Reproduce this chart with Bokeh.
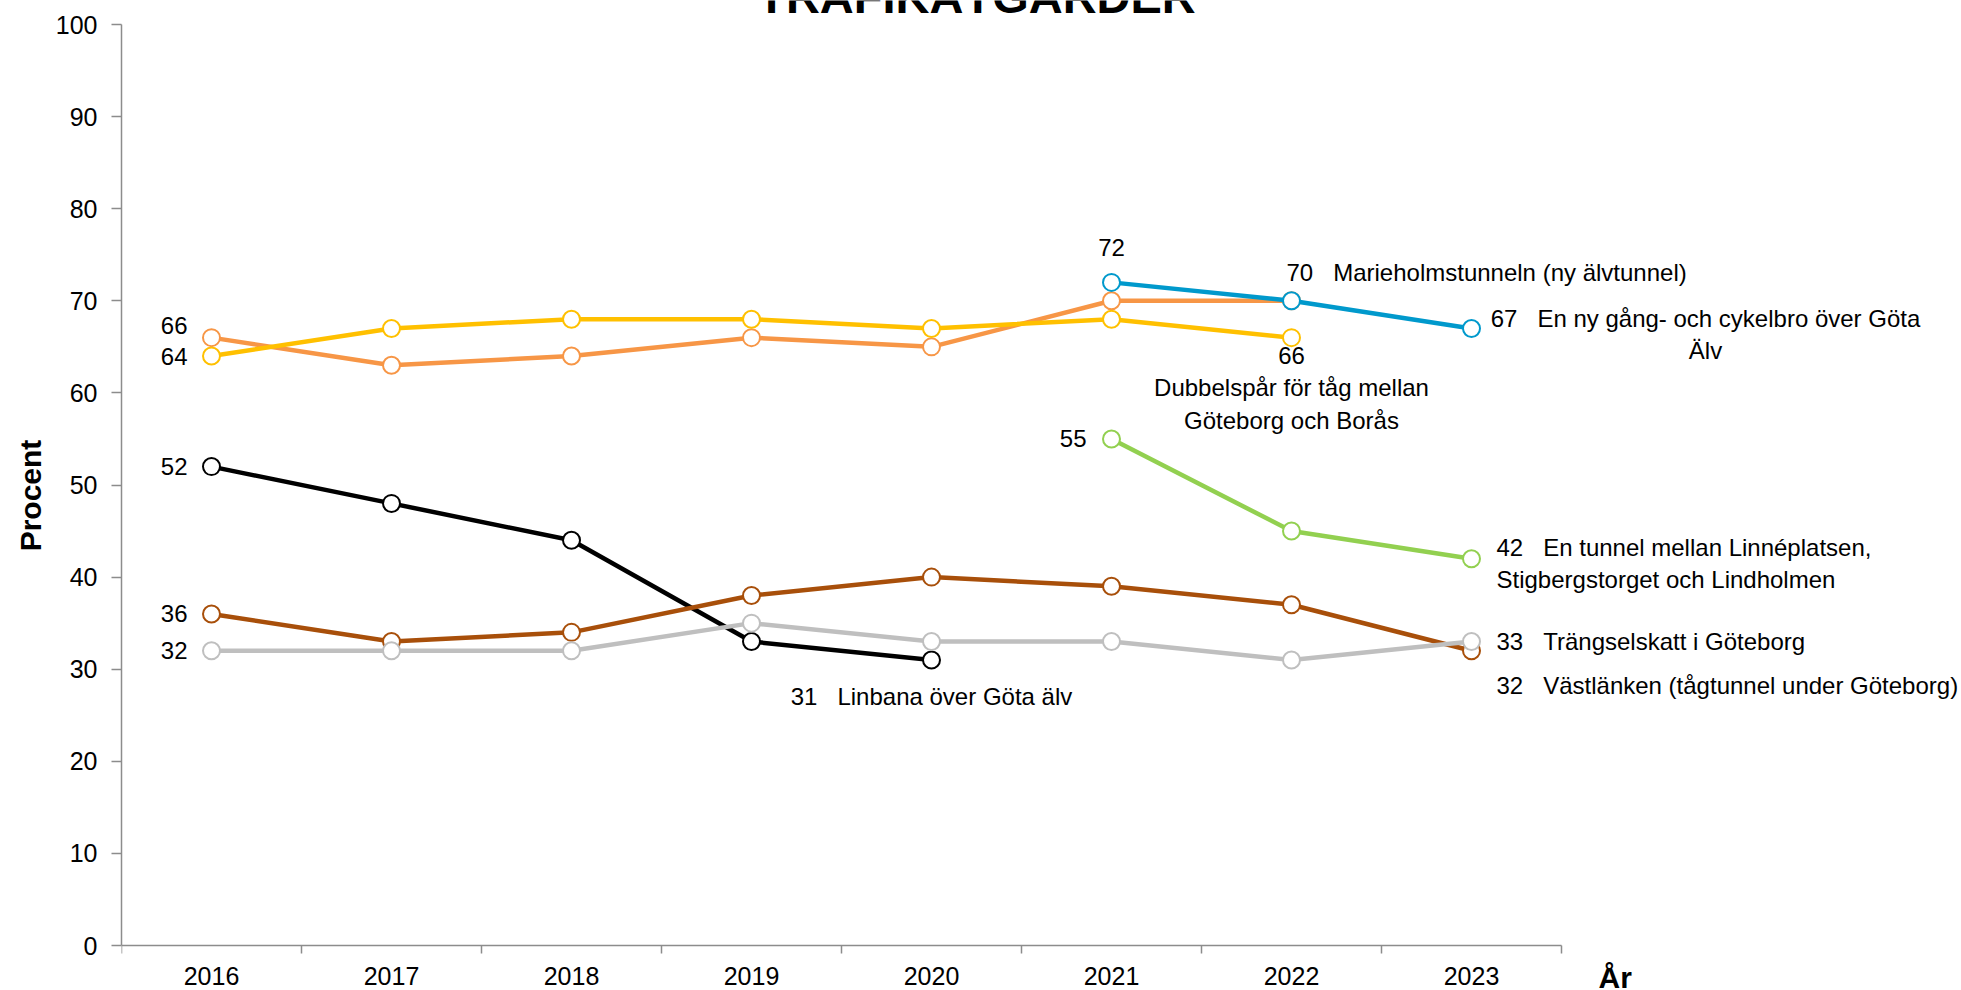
from bokeh.plotting import figure
from bokeh.models import Range1d, FixedTicker, Label
from bokeh.embed import file_html
from bokeh.resources import INLINE

# ---------------- data ----------------
years = [2016, 2017, 2018, 2019, 2020, 2021, 2022, 2023]
y_ticks = [0, 10, 20, 30, 40, 50, 60, 70, 80, 90, 100]

title_text = "TRAFIKÅTGÄRDER"
y_title = "Procent"
x_title = "År"

marieholm = [66, 63, 64, 66, 65, 70, 70, None]
dubbelspar = [64, 67, 68, 68, 67, 68, 66, None]
cykelbro = [None, None, None, None, None, 72, 70, 67]
linbana = [52, 48, 44, 33, 31, None, None, None]
linne = [None, None, None, None, None, 55, 45, 42]
vastlanken = [36, 33, 34, 38, 40, 39, 37, 32]
trangsel = [32, 32, 32, 35, 33, 33, 31, 33]

name_marieholm = "Marieholmstunneln (ny älvtunnel)"
name_dubbelspar = "Dubbelspår för tåg mellan\nGöteborg och Borås"
name_cykelbro = "En ny gång- och cykelbro över Göta\nÄlv"
name_linbana = "Linbana över Göta älv"
name_linne = "En tunnel mellan Linnéplatsen,\nStigbergstorget och Lindholmen"
name_vastlanken = "Västlänken (tågtunnel under Göteborg)"
name_trangsel = "Trängselskatt i Göteborg"

# ---------------- styling / layout ----------------
FONT = "Liberation Sans"
AXIS_COLOR = "#8c8c8c"
W, H = 1961, 990
LEFT = 121            # pixel position of the y axis
Y0_PX, Y100_PX = 945, 24   # pixel rows of y=0 and y=100
CAT_PX = 180          # width of one year category in pixels
GAP = "\u00a0\u00a0\u00a0"  # wide gap between value and name (not collapsed in SVG)

series = [
    (marieholm, "#F79646"),
    (dubbelspar, "#FFC000"),
    (cykelbro, "#0099CC"),
    (linbana, "#000000"),
    (vastlanken, "#A84F0A"),
    (trangsel, "#BFBFBF"),
    (linne, "#92D050"),
]

xs = [i + 0.5 for i in range(len(years))]
ppu = (Y0_PX - Y100_PX) / 100.0
y_lo = -(H - Y0_PX) / ppu
y_hi = 100 + Y100_PX / ppu
x_hi = (W - LEFT) / CAT_PX

p = figure(width=W, height=H, output_backend="svg", toolbar_location=None,
           x_range=Range1d(0, x_hi), y_range=Range1d(y_lo, y_hi),
           min_border_left=LEFT, min_border_right=0, min_border_top=0,
           min_border_bottom=0, background_fill_color="white",
           border_fill_color="white")
p.title.visible = False
p.outline_line_color = None
p.xgrid.visible = False
p.ygrid.visible = False

for vals, color in series:
    px = [x for x, v in zip(xs, vals) if v is not None]
    py = [v for v in vals if v is not None]
    p.line(px, py, line_color=color, line_width=4.5)
    p.scatter(px, py, marker="circle", size=17, fill_color="white",
              line_color=color, line_width=2)

# y axis
p.yaxis.bounds = (0, 100)
p.yaxis.ticker = FixedTicker(ticks=y_ticks)
p.yaxis.axis_line_color = AXIS_COLOR
p.yaxis.axis_line_width = 1.5
p.yaxis.major_tick_line_color = AXIS_COLOR
p.yaxis.major_tick_line_width = 1.5
p.yaxis.major_tick_out = 10
p.yaxis.major_tick_in = 0
p.yaxis.minor_tick_line_color = None
p.yaxis.major_label_standoff = 14
p.yaxis.major_label_text_font = FONT
p.yaxis.major_label_text_font_size = "25px"
p.yaxis.major_label_text_color = "black"
p.yaxis.axis_label = y_title
p.yaxis.axis_label_text_font = FONT
p.yaxis.axis_label_text_font_size = "30px"
p.yaxis.axis_label_text_font_style = "bold"
p.yaxis.axis_label_text_color = "black"
p.yaxis.axis_label_standoff = 6

# x axis at y=0: labels at category centres, tick marks at category boundaries
p.xaxis.fixed_location = 0
p.xaxis.bounds = (0, len(years))
p.xaxis.ticker = FixedTicker(ticks=xs, minor_ticks=list(range(len(years) + 1)))
p.xaxis.major_label_overrides = {x: str(y) for x, y in zip(xs, years)}
p.xaxis.axis_line_color = AXIS_COLOR
p.xaxis.axis_line_width = 1.5
p.xaxis.major_tick_line_color = None
p.xaxis.major_tick_out = 0
p.xaxis.major_tick_in = 0
p.xaxis.minor_tick_line_color = AXIS_COLOR
p.xaxis.minor_tick_line_width = 1.5
p.xaxis.minor_tick_out = 8
p.xaxis.minor_tick_in = 0
p.xaxis.major_label_standoff = 13
p.xaxis.major_label_text_font = FONT
p.xaxis.major_label_text_font_size = "25px"
p.xaxis.major_label_text_color = "black"


def add_label(vals, idx, text, align, dx, dy):
    p.add_layout(Label(x=xs[idx], y=vals[idx], text=text, x_offset=dx, y_offset=dy,
                       text_align=align, text_baseline="middle",
                       text_font=FONT, text_font_size="24px", text_color="black",
                       text_line_height=1.2))


# value labels / series names
add_label(marieholm, 0, str(marieholm[0]), "right", -24, 12)
add_label(dubbelspar, 0, str(dubbelspar[0]), "right", -24, 0)
add_label(linbana, 0, str(linbana[0]), "right", -24, 0)
add_label(vastlanken, 0, str(vastlanken[0]), "right", -24, 0)
add_label(trangsel, 0, str(trangsel[0]), "right", -24, 0)
add_label(linne, 5, str(linne[5]), "right", -25, 0)
add_label(cykelbro, 5, str(cykelbro[5]), "center", 0, 35)
add_label(marieholm, 6, f"{marieholm[6]}{GAP}{name_marieholm}", "left", -5, 28)
add_label(cykelbro, 7, f"{cykelbro[7]}{GAP}{name_cykelbro}", "center", 234, -6)
add_label(dubbelspar, 6, f"{dubbelspar[6]}\n{name_dubbelspar}", "center", 0, -50)
add_label(linbana, 4, f"{linbana[4]}{GAP}{name_linbana}", "center", 0, -37)
add_label(linne, 7, f"{linne[7]}{GAP}{name_linne}", "left", 25, -5)
add_label(trangsel, 7, f"{trangsel[7]}{GAP}{name_trangsel}", "left", 25, 0)
add_label(vastlanken, 7, f"{vastlanken[7]}{GAP}{name_vastlanken}", "left", 25, -35)

# chart title (top partially cut off as in the reference)
p.add_layout(Label(x=len(years) / 2, y=100, text=title_text, x_offset=135, y_offset=28,
                   text_align="center", text_baseline="middle",
                   text_font=FONT, text_font_size="47px", text_font_style="bold",
                   text_color="black"))

# x axis title at the right end of the axis
p.add_layout(Label(x=len(years), y=0, text=x_title, x_offset=37, y_offset=-32,
                   text_align="left", text_baseline="middle",
                   text_font=FONT, text_font_size="30px", text_font_style="bold",
                   text_color="black"))

open("out.html", "w").write(file_html(p, INLINE))
